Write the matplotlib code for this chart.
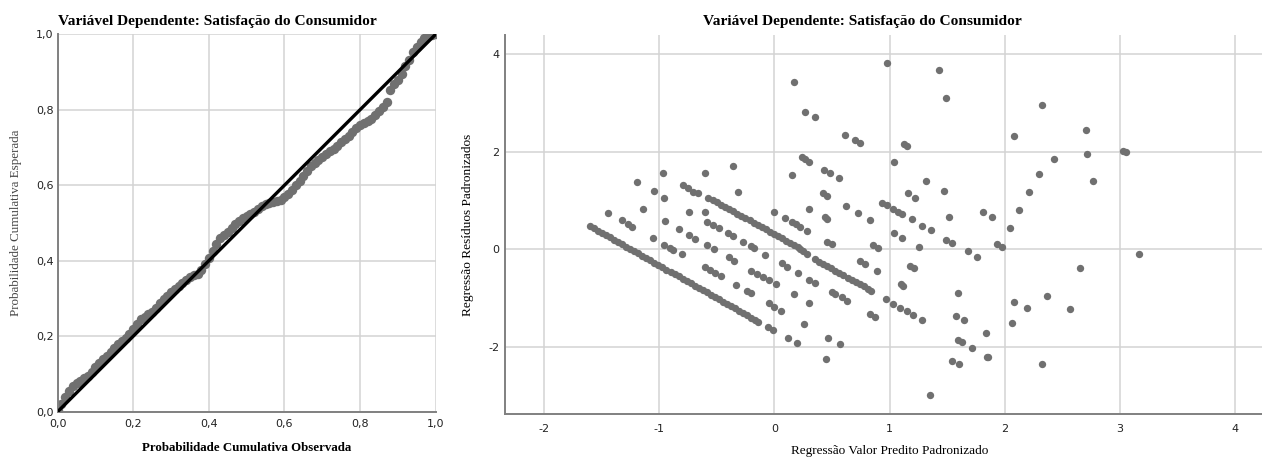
import matplotlib
matplotlib.use("Agg")
import matplotlib.pyplot as plt

# ---- P-P plot: observed vs expected cumulative probability ----
pp_obs = [0.00, 0.01, 0.02, 0.03, 0.04, 0.05, 0.06, 0.07, 0.08, 0.09,
          0.10, 0.11, 0.12, 0.13, 0.14, 0.15, 0.16, 0.17, 0.18, 0.19,
          0.20, 0.21, 0.22, 0.23, 0.24, 0.25, 0.26, 0.27, 0.28, 0.29,
          0.30, 0.31, 0.32, 0.33, 0.34, 0.35, 0.36, 0.37, 0.38, 0.39,
          0.40, 0.41, 0.42, 0.43, 0.44, 0.45, 0.46, 0.47, 0.48, 0.49,
          0.50, 0.51, 0.52, 0.53, 0.54, 0.55, 0.56, 0.57, 0.58, 0.59,
          0.60, 0.61, 0.62, 0.63, 0.64, 0.65, 0.66, 0.67, 0.68, 0.69,
          0.70, 0.71, 0.72, 0.73, 0.74, 0.75, 0.76, 0.77, 0.78, 0.79,
          0.80, 0.81, 0.82, 0.83, 0.84, 0.85, 0.86, 0.87, 0.88, 0.89,
          0.90, 0.91, 0.92, 0.93, 0.94, 0.95, 0.96, 0.97, 0.98, 0.99,
          1.00]
pp_exp = [0.005, 0.020, 0.038, 0.055, 0.068, 0.075, 0.082, 0.088, 0.095, 0.105,
          0.118, 0.130, 0.140, 0.148, 0.158, 0.168, 0.180, 0.188, 0.196, 0.205,
          0.218, 0.232, 0.245, 0.252, 0.258, 0.265, 0.275, 0.288, 0.298, 0.307,
          0.316, 0.324, 0.332, 0.340, 0.348, 0.356, 0.362, 0.366, 0.375, 0.392,
          0.408, 0.425, 0.445, 0.460, 0.468, 0.475, 0.488, 0.498, 0.505, 0.512,
          0.518, 0.524, 0.530, 0.538, 0.545, 0.550, 0.553, 0.556, 0.558, 0.562,
          0.568, 0.576, 0.588, 0.600, 0.612, 0.625, 0.638, 0.650, 0.660, 0.668,
          0.675, 0.682, 0.690, 0.697, 0.705, 0.714, 0.722, 0.731, 0.742, 0.752,
          0.760, 0.765, 0.770, 0.776, 0.786, 0.797, 0.808, 0.820, 0.852, 0.868,
          0.880, 0.895, 0.915, 0.932, 0.952, 0.965, 0.980, 0.990, 0.995, 0.999,
          1.000]
ref_line = [0.0, 1.0]
pp_ticks = [0.0, 0.2, 0.4, 0.6, 0.8, 1.0]
pp_ticklabels = ["0,0", "0,2", "0,4", "0,6", "0,8", "1,0"]

# ---- residuals vs predicted (standardized) ----
# lowest diagonal band
band_a_x = [-1.60, -1.565, -1.53, -1.495, -1.46, -1.425, -1.39, -1.355, -1.32, -1.285,
            -1.25, -1.215, -1.18, -1.145, -1.11, -1.075, -1.04, -1.005, -0.97, -0.935,
            -0.90, -0.865, -0.83, -0.795, -0.76, -0.725, -0.69, -0.655, -0.62, -0.585,
            -0.55, -0.515, -0.48, -0.445, -0.41, -0.375, -0.34, -0.305, -0.27, -0.235,
            -0.20, -0.165, -0.14]
band_a_y = [0.480, 0.433, 0.386, 0.339, 0.292, 0.246, 0.199, 0.152, 0.105, 0.058,
            0.011, -0.036, -0.083, -0.130, -0.177, -0.224, -0.270, -0.317, -0.364, -0.411,
            -0.458, -0.505, -0.552, -0.599, -0.646, -0.693, -0.739, -0.786, -0.833, -0.880,
            -0.927, -0.974, -1.021, -1.068, -1.115, -1.162, -1.208, -1.255, -1.302, -1.349,
            -1.396, -1.443, -1.476]

# second diagonal band
band_b_x = [-0.789, -0.746, -0.703, -0.659, -0.572,
            -0.53, -0.495, -0.46, -0.425, -0.39, -0.355, -0.32, -0.285, -0.25, -0.215,
            -0.18, -0.145, -0.11, -0.075, -0.04, -0.005, 0.03, 0.065, 0.10, 0.135,
            0.17, 0.205, 0.225, 0.245, 0.28,
            0.355, 0.39, 0.425, 0.46, 0.495, 0.53, 0.565, 0.60, 0.635, 0.67,
            0.705, 0.74, 0.775, 0.81, 0.84,
            0.966, 1.032, 1.090, 1.148, 1.206, 1.284]
band_b_y = [1.316, 1.249, 1.179, 1.146, 1.056,
            1.009, 0.963, 0.917, 0.871, 0.825, 0.779, 0.733, 0.687, 0.641, 0.595,
            0.549, 0.502, 0.456, 0.410, 0.364, 0.318, 0.272, 0.226, 0.180, 0.134,
            0.088, 0.042, 0.016, -0.040, -0.090,
            -0.205, -0.251, -0.297, -0.344, -0.390, -0.436, -0.482, -0.528, -0.575, -0.621,
            -0.667, -0.713, -0.759, -0.805, -0.845,
            -1.017, -1.120, -1.195, -1.263, -1.345, -1.447]

# remaining cases (predicted, residual)
other_pts = [
    (-1.188, 1.384), (-0.965, 1.568), (-1.046, 1.193), (-0.954, 1.060), (-1.438, 0.753),
    (-1.139, 0.825), (-1.317, 0.600), (-1.273, 0.528), (-1.230, 0.463), (-0.952, 0.585),
    (-0.737, 0.770), (-0.824, 0.409), (-0.742, 0.287), (-0.688, 0.221), (-1.055, 0.242),
    (-0.954, 0.088), (-0.905, 0.020), (-0.876, -0.014), (-0.803, -0.102), (-0.601, 1.562),
    (-0.356, 1.705), (-0.315, 1.179), (-0.601, 0.770), (-0.586, 0.565), (-0.529, 0.497),
    (-0.477, 0.430), (-0.404, 0.328), (-0.361, 0.278), (-0.274, 0.156), (-0.198, 0.068),
    (-0.173, 0.020), (-0.078, -0.117), (-0.586, 0.088), (-0.523, 0.016), (-0.390, -0.164),
    (-0.347, -0.233), (-0.601, -0.368), (-0.558, -0.424), (-0.514, -0.485), (-0.465, -0.540),
    (-0.202, -0.438), (-0.150, -0.506), (-0.098, -0.567), (-0.046, -0.628), (0.012, -0.710),
    (-0.332, -0.731), (-0.239, -0.847), (-0.202, -0.901), (-0.046, -1.105), (-0.003, -1.175),
    (0.056, -1.257), (-0.057, -1.597), (-0.009, -1.652), (0.116, -1.810), (0.194, -1.924),
    (0.260, -1.529), (0.298, -1.093), (0.171, -0.921), (0.208, -0.491), (0.064, -0.287),
    (0.108, -0.356), (0.304, -0.628), (0.353, -0.684), (0.498, -0.868), (0.526, -0.915),
    (0.585, -0.983), (0.633, -1.052), (0.830, -1.324), (0.873, -1.392), (0.468, -1.810),
    (0.570, -1.939), (0.446, -2.252), (0.743, -0.240), (0.787, -0.301), (0.888, -0.438),
    (0.859, 0.088), (0.902, 0.020), (0.454, 0.156), (0.498, 0.102), (0.173, 3.418),
    (0.266, 2.817), (0.350, 2.702), (0.611, 2.346), (0.700, 2.237), (0.743, 2.176),
    (0.975, 3.807), (0.238, 1.896), (0.266, 1.848), (0.304, 1.793), (0.434, 1.623),
    (0.483, 1.556), (0.561, 1.453), (0.151, 1.521), (0.425, 1.146), (0.460, 1.091),
    (0.304, 0.825), (0.618, 0.892), (0.722, 0.753), (0.830, 0.606), (0.937, 0.954),
    (0.975, 0.907), (1.029, 0.831), (1.077, 0.770), (1.108, 0.723), (0.000, 0.757),
    (0.093, 0.635), (0.151, 0.553), (0.188, 0.518), (0.223, 0.463), (0.281, 0.375),
    (0.440, 0.655), (0.454, 0.614), (1.428, 3.670), (1.489, 3.103), (2.324, 2.954),
    (2.079, 2.319), (1.125, 2.149), (1.153, 2.115), (1.038, 1.781), (2.426, 1.848),
    (2.296, 1.541), (1.316, 1.404), (1.472, 1.200), (1.162, 1.146), (1.220, 1.056),
    (2.209, 1.179), (1.192, 0.614), (1.278, 0.483), (1.356, 0.395), (1.515, 0.655),
    (1.807, 0.757), (1.885, 0.655), (2.122, 0.804), (2.044, 0.430), (1.038, 0.328),
    (1.110, 0.237), (1.258, 0.041), (1.489, 0.201), (1.544, 0.135), (1.677, -0.025),
    (1.929, 0.102), (1.977, 0.041), (1.761, -0.151), (1.177, -0.342), (1.212, -0.389),
    (1.099, -0.710), (1.119, -0.751), (1.591, -0.888), (1.573, -1.359), (1.645, -1.447),
    (1.836, -1.707), (1.591, -1.857), (1.625, -1.904), (1.717, -2.027), (1.842, -2.198),
    (1.856, -2.211), (1.544, -2.280), (1.602, -2.354), (1.350, -2.982), (2.081, -1.073),
    (2.189, -1.208), (2.363, -0.956), (2.059, -1.515), (2.324, -2.354), (2.703, 2.442),
    (2.709, 1.951), (3.022, 2.018), (3.050, 1.986), (2.761, 1.398), (3.163, -0.102),
    (2.651, -0.389), (2.565, -1.228),
]
res_xticks = [-2, -1, 0, 1, 2, 3, 4]
res_yticks = [-2, 0, 2, 4]

title = "Variável Dependente: Satisfação do Consumidor"
serif = "Liberation Serif"
pt_color = "#707070"
grid_color = "#d3d3d3"
spine_color = "#808080"

plt.rcParams["axes.unicode_minus"] = False

fig = plt.figure(figsize=(12.62, 4.59), dpi=100)
fig.patch.set_facecolor("white")

def style_axes(ax):
    ax.grid(True, color=grid_color, linewidth=1.1)
    ax.set_axisbelow(True)
    for side in ["top", "right"]:
        ax.spines[side].set_visible(False)
    for side in ["left", "bottom"]:
        ax.spines[side].set_color(spine_color)
        ax.spines[side].set_linewidth(1.4)
    ax.tick_params(length=0, labelsize=8, labelcolor="#222222")

# left: normal P-P plot
ax1 = fig.add_axes([0.0457, 0.1031, 0.2995, 0.8222])
style_axes(ax1)
ax1.scatter(pp_obs, pp_exp, s=46, color=pt_color, linewidths=0, zorder=2)
ax1.plot(ref_line, ref_line, color="black", linewidth=2.4, zorder=3)
ax1.set_xlim(0, 1)
ax1.set_ylim(0, 1)
ax1.set_xticks(pp_ticks)
ax1.set_xticklabels(pp_ticklabels)
ax1.set_yticks(pp_ticks)
ax1.set_yticklabels(pp_ticklabels)
ax1.tick_params(axis="x", pad=5)
ax1.tick_params(axis="y", pad=3)
ax1.set_xlabel("Probabilidade Cumulativa Observada", family=serif,
               fontweight="bold", fontsize=9.3)
ax1.xaxis.set_label_coords(0.5, -0.096)
ax1.xaxis.label.set_va("center")
ax1.set_ylabel("Probabilidade Cumulativa Esperada", family=serif,
               fontsize=9.4, color="#444444")
ax1.yaxis.set_label_coords(-0.109, 0.5)
ax1.yaxis.label.set_va("center")
fig.text(58 / 1262, 1 - 22 / 459, title, family=serif, fontweight="bold",
         fontsize=11.1, ha="left", va="center")

# right: standardized residuals vs standardized predicted values
ax2 = fig.add_axes([0.4004, 0.098, 0.5996, 0.8257])
style_axes(ax2)
pred = band_a_x + band_b_x + [p[0] for p in other_pts]
resid = band_a_y + band_b_y + [p[1] for p in other_pts]
ax2.scatter(pred, resid, s=28, color=pt_color, linewidths=0, zorder=2)
ax2.set_xlim(-2.333, 4.23)
ax2.set_ylim(-3.37, 4.39)
ax2.set_xticks(res_xticks)
ax2.set_yticks(res_yticks)
ax2.tick_params(axis="x", pad=7)
ax2.tick_params(axis="y", pad=4)
ax2.set_xlabel("Regressão Valor Predito Padronizado", family=serif, fontsize=9.5)
ax2.xaxis.set_label_coords((890 - 505.3) / 756.7, -0.098)
ax2.xaxis.label.set_va("center")
ax2.set_ylabel("Regressão Resíduos Padronizados", family=serif, fontsize=9.6)
ax2.yaxis.set_label_coords(-0.049, 0.5)
ax2.yaxis.label.set_va("center")
fig.text(703 / 1262, 1 - 22 / 459, title, family=serif, fontweight="bold",
         fontsize=11.1, ha="left", va="center")

fig.savefig("out.png", dpi=100, facecolor="white")
